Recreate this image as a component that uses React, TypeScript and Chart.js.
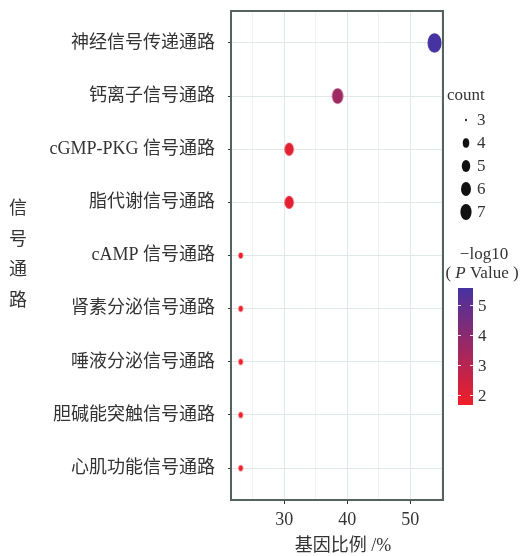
import React, { useEffect, useRef } from 'react';
import { Chart, registerables } from 'chart.js';
Chart.register(...registerables);

// ---- data ----
const pathways = [
  '神经信号传递通路',
  '钙离子信号通路',
  'cGMP-PKG 信号通路',
  '脂代谢信号通路',
  'cAMP 信号通路',
  '肾素分泌信号通路',
  '唾液分泌信号通路',
  '胆碱能突触信号通路',
  '心肌功能信号通路',
];
const geneRatio = [53.85, 38.46, 30.77, 30.77, 23.08, 23.08, 23.08, 23.08, 23.08];
const counts = [7, 5, 4, 4, 3, 3, 3, 3, 3];
const negLog10P = [5.57, 3.55, 2.0, 1.95, 1.72, 1.7, 1.69, 1.68, 1.67];
const xTicks = [25, 30, 35, 40, 45, 50, 55];
const xLabelTicks = [30, 40, 50];
const countBreaks = [3, 4, 5, 6, 7];
const colorBreaks = [2, 3, 4, 5];

const xTitle = '基因比例 /%';
const yTitle = ['信', '号', '通', '路'];

const FONT = '"Liberation Serif", "Noto Sans CJK SC", serif';
const TEXT = '#333333';
const LOW = [240, 30, 40];
const HIGH = [70, 50, 160];

const cMin = Math.min(...negLog10P);
const cMax = Math.max(...negLog10P);
const nMin = Math.min(...countBreaks);
const nMax = Math.max(...countBreaks);

function colorFor(v: number) {
  const t = (v - cMin) / (cMax - cMin);
  const c = LOW.map((l, i) => Math.round(l + (HIGH[i] - l) * t));
  return `rgb(${c[0]},${c[1]},${c[2]})`;
}
function legendDiam(n: number) {
  return 2.67 * (1 + 5 * Math.sqrt((n - nMin) / (nMax - nMin)));
}

function makeEllipse(w: number, h: number, color: string) {
  const cv = document.createElement('canvas');
  cv.width = Math.ceil(w) + 2;
  cv.height = Math.ceil(h) + 2;
  const g = cv.getContext('2d')!;
  g.fillStyle = color;
  g.beginPath();
  g.ellipse(cv.width / 2, cv.height / 2, w / 2, h / 2, 0, 0, Math.PI * 2);
  g.fill();
  return cv;
}

export default function App() {
  const ref = useRef<HTMLCanvasElement>(null);
  useEffect(() => {
    document.body.style.margin = '0';
    const images = counts.map((n, i) => {
      const h = legendDiam(n) + 3.5;
      return makeEllipse(h * 0.72, h, colorFor(negLog10P[i]));
    });

    const decor = {
      id: 'decor',
      afterDraw(chart: any) {
        const { ctx, chartArea: a } = chart;
        ctx.save();
        // panel border
        ctx.strokeStyle = '#56625f';
        ctx.lineWidth = 2;
        ctx.strokeRect(a.left, a.top, a.right - a.left, a.bottom - a.top);

        ctx.fillStyle = TEXT;
        ctx.font = `18px ${FONT}`;
        ctx.textAlign = 'center';
        ctx.textBaseline = 'middle';
        // x title
        ctx.fillText(xTitle, (a.left + a.right) / 2 + 6, 546);
        // y title stacked
        const mid = (a.top + a.bottom) / 2;
        yTitle.forEach((ch, i) => {
          ctx.fillText(ch, 18, mid + (i - (yTitle.length - 1) / 2) * 30.5);
        });

        // count legend
        ctx.font = `17px ${FONT}`;
        ctx.textAlign = 'left';
        ctx.fillText('count', 447, 96);
        countBreaks.forEach((n, i) => {
          const y = 120 + i * 23;
          const h = legendDiam(n);
          ctx.fillStyle = '#111';
          ctx.beginPath();
          ctx.ellipse(466, y, (h * 0.7) / 2, h / 2, 0, 0, Math.PI * 2);
          ctx.fill();
          ctx.fillStyle = TEXT;
          ctx.fillText(String(n), 477, y + 1);
        });

        // colour legend
        ctx.textAlign = 'center';
        ctx.fillText('\u2212log10', 484, 255);
        const p1 = '( ', p2 = 'P', p3 = ' Value )';
        ctx.font = `17px ${FONT}`;
        const w1 = ctx.measureText(p1).width;
        const w3 = ctx.measureText(p3).width;
        ctx.font = `italic 17px ${FONT}`;
        const w2 = ctx.measureText(p2).width;
        let x = 482 - (w1 + w2 + w3) / 2;
        ctx.textAlign = 'left';
        ctx.font = `17px ${FONT}`;
        ctx.fillText(p1, x, 274);
        x += w1;
        ctx.font = `italic 17px ${FONT}`;
        ctx.fillText(p2, x, 274);
        x += w2;
        ctx.font = `17px ${FONT}`;
        ctx.fillText(p3, x, 274);

        const bx = 458, bw = 15, bTop = 288, bBot = 405;
        const grad = ctx.createLinearGradient(0, bBot, 0, bTop);
        grad.addColorStop(0, colorFor(cMin));
        grad.addColorStop(0.5, colorFor((cMin + cMax) / 2));
        grad.addColorStop(1, colorFor(cMax));
        ctx.fillStyle = grad;
        ctx.fillRect(bx, bTop, bw, bBot - bTop);
        const vy = (v: number) => bBot - ((v - cMin) / (cMax - cMin)) * (bBot - bTop);
        colorBreaks.forEach((v) => {
          const y = Math.round(vy(v)) + 0.5;
          ctx.strokeStyle = 'rgba(255,255,255,0.85)';
          ctx.lineWidth = 1;
          ctx.beginPath();
          ctx.moveTo(bx, y); ctx.lineTo(bx + 3, y);
          ctx.moveTo(bx + bw - 3, y); ctx.lineTo(bx + bw, y);
          ctx.stroke();
          ctx.fillStyle = TEXT;
          ctx.fillText(String(v), 478, y + 1);
        });
        ctx.restore();
      },
    };

    const chart = new Chart(ref.current!, {
      type: 'scatter',
      data: {
        datasets: [
          {
            data: geneRatio.map((x, i) => ({ x, y: i + 1 })),
            pointStyle: (c: any) => images[c.dataIndex] as any,
            pointRadius: 10,
            pointHoverRadius: 10,
          },
        ],
      },
      options: {
        responsive: false,
        animation: false,
        events: [],
        layout: { padding: { left: 0, top: 9, right: 83, bottom: 0 } },
        plugins: { legend: { display: false }, tooltip: { enabled: false } },
        scales: {
          x: {
            type: 'linear',
            min: 21.54,
            max: 55.19,
            afterFit: (s: any) => { s.height = 56; s.paddingLeft = 0; s.paddingRight = 0; },
            afterBuildTicks: (s: any) => { s.ticks = xTicks.map((v) => ({ value: v })); },
            border: { display: false },
            grid: {
              color: (c: any) => (xLabelTicks.includes(c.tick?.value) ? '#e1e8ea' : '#eff3f4'),
              tickColor: (c: any) => (xLabelTicks.includes(c.tick?.value) ? '#333' : 'rgba(0,0,0,0)'),
              tickLength: 4,
              lineWidth: 1,
            },
            ticks: {
              autoSkip: false,
              maxRotation: 0,
              padding: 5,
              color: TEXT,
              font: { family: FONT, size: 18 },
              callback: (v: any) => (xLabelTicks.includes(v) ? String(v) : ''),
            },
          },
          y: {
            type: 'linear',
            reverse: true,
            min: 0.4,
            max: pathways.length + 0.6,
            afterFit: (s: any) => { s.width = 231; s.paddingTop = 0; s.paddingBottom = 0; },
            afterBuildTicks: (s: any) => { s.ticks = pathways.map((_, i) => ({ value: i + 1 })); },
            border: { display: false },
            grid: { color: '#e1e8ea', tickColor: '#333', tickLength: 3, lineWidth: 1 },
            ticks: {
              autoSkip: false,
              padding: 13,
              color: TEXT,
              font: { family: FONT, size: 18 },
              callback: (v: any) => pathways[v - 1] ?? '',
            },
          },
        },
      },
      plugins: [decor],
    } as any);
    return () => chart.destroy();
  }, []);
  return (
    <div style={{ position: 'absolute', left: 0, top: 0, width: 526, height: 556, background: '#fff' }}>
      <canvas ref={ref} width={526} height={556} />
    </div>
  );
}
